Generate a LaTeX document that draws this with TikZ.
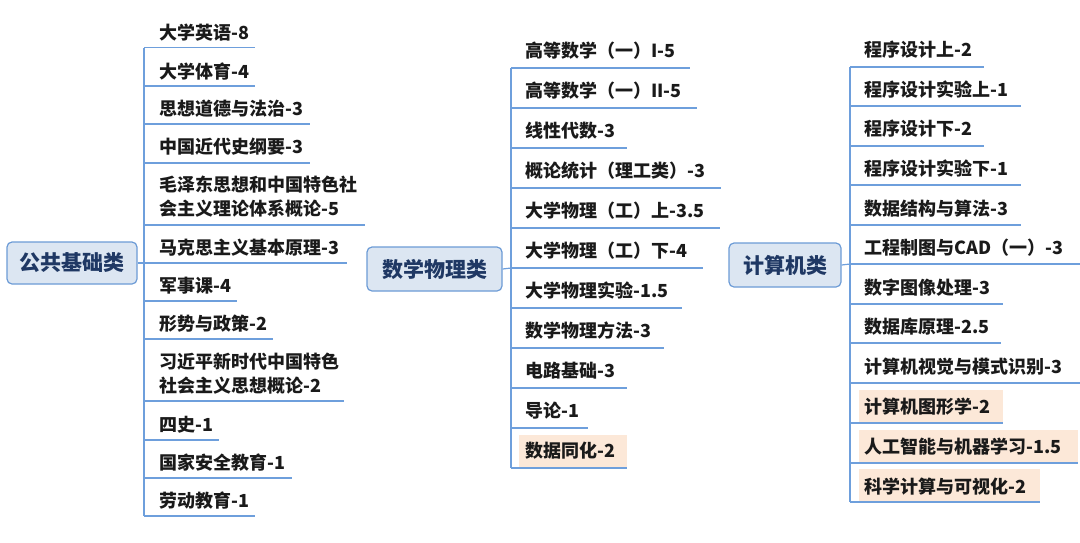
\documentclass[tikz,border=0pt]{standalone}
\usepackage{fontspec}
\setmainfont{Noto Sans CJK SC}
\definecolor{lineblue}{HTML}{6E9FDC}
\definecolor{rootfill}{HTML}{DCE6F2}
\definecolor{rootdraw}{HTML}{6C9BD6}
\definecolor{roottext}{HTML}{1F3864}
\definecolor{hlfill}{HTML}{FCE8D8}
\definecolor{leaftext}{HTML}{1A1A1A}
\tikzset{
  rootbox/.style={draw=rootdraw, fill=rootfill, line width=1.2pt, rounded corners=5pt,
    text=roottext, font=\fontsize{21}{24}\selectfont\bfseries, inner sep=0pt},
  leafnode/.style={inner sep=0pt, text=leaftext, align=left,
    font=\fontsize{18}{24}\selectfont\bfseries},
  branch/.style={draw=lineblue, line width=1.2pt},
}
% \leaf{name}{hubx}{textx}{ycenter}{yunder}{xright}{text}
\newcommand\leaf[7]{%
  \node[leafnode, anchor=base west] (#1) at (#3,-#4-7) {#7};
  \coordinate (#1-l) at (#2,-#5);
  \coordinate (#1-r) at (#6,-#5);
  \draw[branch] (#1-l) -- (#1-r);
}
% highlighted leaf: \leafhl{name}{hubx}{boxx}{textx}{ycenter}{yunder}{xright}{text}
\newcommand\leafhl[8]{%
  \fill[hlfill] (#3,-#6+33) rectangle (#7,-#6);
  \leaf{#1}{#2}{#4}{#5}{#6}{#7}{#8}
}
\begin{document}
\begin{tikzpicture}[x=1pt,y=1pt]
\useasboundingbox (0,0) rectangle (1080,-542);

% ---------- column 1 ----------
\node[rootbox, minimum width=130pt, minimum height=42pt] (r1) at (72,-263) {公共基础类};
\coordinate (h1) at (144,-263);
\coordinate (h1t) at (144,-47.7);
\coordinate (h1b) at (144,-516);
\draw[branch] (r1.east) -- (h1);
\draw[branch] (h1t) -- (h1b);
\leaf{a1}{144}{159}{32}{47.7}{255}{大学英语-8}
\leaf{a2}{144}{159}{71}{86}{255}{大学体育-4}
\leaf{a3}{144}{159}{108}{124}{310}{思想道德与法治-3}
\leaf{a4}{144}{159}{146}{163}{310}{中国近代史纲要-3}
\node[leafnode, anchor=base west] (a5) at (159,-215) {毛泽东思想和中国特色社\\会主义理论体系概论-5};
\coordinate (a5-l) at (144,-225);
\coordinate (a5-r) at (365,-225);
\draw[branch] (a5-l) -- (a5-r);
\leaf{a6}{144}{159}{247}{263}{347}{马克思主义基本原理-3}
\leaf{a7}{144}{159}{285}{301}{237}{军事课-4}
\leaf{a8}{144}{159}{323}{339}{273}{形势与政策-2}
\node[leafnode, anchor=base west] (a9) at (159,-392) {习近平新时代中国特色\\社会主义思想概论-2};
\coordinate (a9-l) at (144,-401);
\coordinate (a9-r) at (344,-401);
\draw[branch] (a9-l) -- (a9-r);
\leaf{a10}{144}{159}{424}{440}{219}{四史-1}
\leaf{a11}{144}{159}{462}{478}{292}{国家安全教育-1}
\leaf{a12}{144}{159}{500}{516}{255}{劳动教育-1}

% ---------- column 2 ----------
\node[rootbox, minimum width=135pt, minimum height=44pt] (r2) at (434.5,-269) {数学物理类};
\coordinate (h2) at (511,-268);
\coordinate (h2t) at (511,-68);
\coordinate (h2b) at (511,-468);
\draw[branch] (r2.east) -- (h2);
\draw[branch] (h2t) -- (h2b);
\leaf{b1}{511}{525}{50}{68}{690}{高等数学（一）I-5}
\leaf{b2}{511}{525}{90}{108}{697}{高等数学（一）II-5}
\leaf{b3}{511}{525}{130}{148}{627}{线性代数-3}
\leaf{b4}{511}{525}{170}{188}{721}{概论统计（理工类）-3}
\leaf{b5}{511}{525}{210}{228}{720}{大学物理（工）上-3.5}
\leaf{b6}{511}{525}{250}{268}{703}{大学物理（工）下-4}
\leaf{b7}{511}{525}{290}{308}{682}{大学物理实验-1.5}
\leaf{b8}{511}{525}{330}{348}{664}{数学物理方法-3}
\leaf{b9}{511}{525}{370}{388}{627}{电路基础-3}
\leaf{b10}{511}{525}{410}{428}{588}{导论-1}
\leafhl{b11}{511}{519}{525}{450}{468}{627}{数据同化-2}

% ---------- column 3 ----------
\node[rootbox, minimum width=112pt, minimum height=44pt] (r3) at (785,-265) {计算机类};
\coordinate (h3) at (850,-264);
\coordinate (h3t) at (850,-67);
\coordinate (h3b) at (850,-502);
\draw[branch] (r3.east) -- (h3);
\draw[branch] (h3t) -- (h3b);
\leaf{c1}{850}{864}{49}{67}{984}{程序设计上-2}
\leaf{c2}{850}{864}{89}{106}{1021}{程序设计实验上-1}
\leaf{c3}{850}{864}{128}{146}{984}{程序设计下-2}
\leaf{c4}{850}{864}{168}{185}{1021}{程序设计实验下-1}
\leaf{c5}{850}{864}{208}{225}{1021}{数据结构与算法-3}
\leaf{c6}{850}{864}{247}{264}{1080}{工程制图与CAD（一）-3}
\leaf{c7}{850}{864}{287}{304}{1003}{数字图像处理-3}
\leaf{c8}{850}{864}{326}{343}{1001}{数据库原理-2.5}
\leaf{c9}{850}{864}{366}{383}{1080}{计算机视觉与模式识别-3}
\leafhl{c10}{850}{859}{864}{406}{423}{1003}{计算机图形学-2}
\leafhl{c11}{850}{859}{864}{446}{463}{1078}{人工智能与机器学习-1.5}
\leafhl{c12}{850}{859}{864}{486}{502}{1040}{科学计算与可视化-2}
\end{tikzpicture}
\end{document}
